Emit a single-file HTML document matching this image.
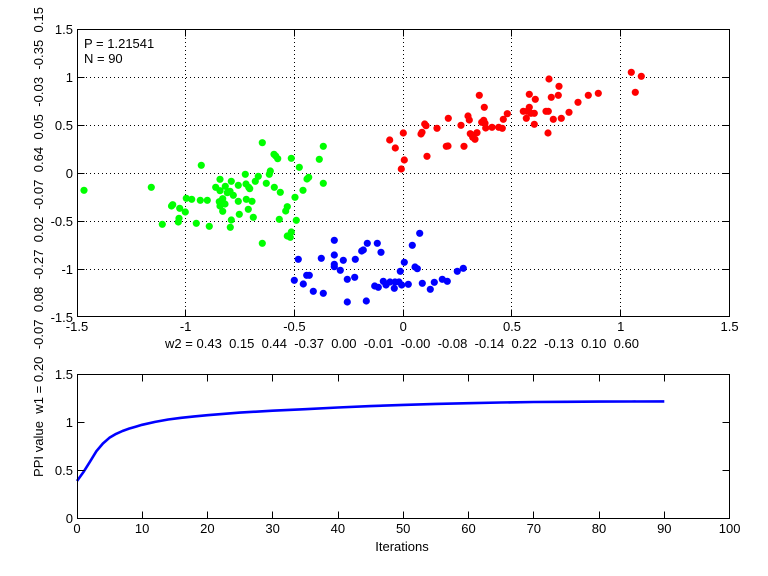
<!DOCTYPE html>
<html>
<head>
<meta charset="utf-8">
<style>
html,body{margin:0;padding:0;background:#fff;}
svg{display:block;}
text{font-family:"Liberation Sans",Arial,sans-serif;font-size:13px;fill:#000;}
</style>
</head>
<body>
<svg width="768" height="576" viewBox="0 0 768 576" xmlns="http://www.w3.org/2000/svg">
<rect x="0" y="0" width="768" height="576" fill="#fff"/>

<!-- ===== TOP PLOT ===== -->
<g stroke="#000" stroke-width="1" stroke-dasharray="1 3" shape-rendering="crispEdges">
  <line x1="185.5" y1="30" x2="185.5" y2="316"/>
  <line x1="294.5" y1="30" x2="294.5" y2="316"/>
  <line x1="403.5" y1="30" x2="403.5" y2="316"/>
  <line x1="511.5" y1="30" x2="511.5" y2="316"/>
  <line x1="620.5" y1="30" x2="620.5" y2="316"/>
  <line x1="78" y1="77.5" x2="729" y2="77.5"/>
  <line x1="78" y1="125.5" x2="729" y2="125.5"/>
  <line x1="78" y1="173.5" x2="729" y2="173.5"/>
  <line x1="78" y1="221.5" x2="729" y2="221.5"/>
  <line x1="78" y1="269.5" x2="729" y2="269.5"/>
</g>

<!-- green -->
<g fill="#00ff00">
<circle cx="84" cy="190.3" r="3.6"/><circle cx="151.3" cy="187.3" r="3.6"/><circle cx="162.3" cy="224.3" r="3.6"/>
<circle cx="172.7" cy="204.7" r="3.6"/><circle cx="171.5" cy="206" r="3.6"/><circle cx="179.7" cy="208.3" r="3.6"/>
<circle cx="185.3" cy="212" r="3.6"/><circle cx="179" cy="218.3" r="3.6"/><circle cx="178.3" cy="222" r="3.6"/>
<circle cx="186.3" cy="198.3" r="3.6"/><circle cx="191.7" cy="199.3" r="3.6"/><circle cx="196.3" cy="223.3" r="3.6"/>
<circle cx="200.3" cy="200.3" r="3.6"/><circle cx="207.3" cy="200.3" r="3.6"/><circle cx="201.3" cy="165.3" r="3.6"/>
<circle cx="209.3" cy="226.3" r="3.6"/><circle cx="215.7" cy="187.3" r="3.6"/><circle cx="220" cy="179.3" r="3.6"/>
<circle cx="225.3" cy="186.3" r="3.6"/><circle cx="220" cy="190.7" r="3.6"/><circle cx="227.3" cy="192.7" r="3.6"/>
<circle cx="230" cy="191.3" r="3.6"/><circle cx="233.3" cy="195.3" r="3.6"/><circle cx="222.7" cy="198.7" r="3.6"/>
<circle cx="219.3" cy="201.7" r="3.6"/><circle cx="225" cy="204" r="3.6"/><circle cx="220" cy="206" r="3.6"/>
<circle cx="222.7" cy="211.3" r="3.6"/><circle cx="231.3" cy="181.3" r="3.6"/><circle cx="238.3" cy="185.3" r="3.6"/>
<circle cx="238.3" cy="201.3" r="3.6"/><circle cx="239.3" cy="214.3" r="3.6"/><circle cx="231.3" cy="220" r="3.6"/>
<circle cx="230.3" cy="227.3" r="3.6"/><circle cx="245.3" cy="174.3" r="3.6"/><circle cx="246" cy="184" r="3.6"/>
<circle cx="248.7" cy="187.3" r="3.6"/><circle cx="249.7" cy="188.7" r="3.6"/><circle cx="246.3" cy="199.3" r="3.6"/>
<circle cx="252" cy="201.3" r="3.6"/><circle cx="248.3" cy="209.3" r="3.6"/><circle cx="253.3" cy="217.3" r="3.6"/>
<circle cx="262.3" cy="142.7" r="3.6"/><circle cx="258.3" cy="176.3" r="3.6"/><circle cx="255.3" cy="181.3" r="3.6"/>
<circle cx="262.3" cy="243.3" r="3.6"/><circle cx="266.3" cy="183.3" r="3.6"/><circle cx="270.3" cy="171" r="3.6"/>
<circle cx="269.3" cy="174.3" r="3.6"/><circle cx="274" cy="154.3" r="3.6"/><circle cx="275.7" cy="156" r="3.6"/>
<circle cx="277.7" cy="158.7" r="3.6"/><circle cx="274.3" cy="187.3" r="3.6"/><circle cx="280.3" cy="192.3" r="3.6"/>
<circle cx="279.3" cy="219.3" r="3.6"/><circle cx="287.3" cy="206.7" r="3.6"/><circle cx="285.7" cy="211" r="3.6"/>
<circle cx="291.3" cy="158.3" r="3.6"/><circle cx="291.3" cy="232" r="3.6"/><circle cx="287.3" cy="236" r="3.6"/>
<circle cx="290.3" cy="237.3" r="3.6"/><circle cx="295" cy="197.3" r="3.6"/><circle cx="296.3" cy="220.3" r="3.6"/>
<circle cx="299.3" cy="167.3" r="3.6"/><circle cx="303" cy="190.3" r="3.6"/><circle cx="308.7" cy="177.3" r="3.6"/>
<circle cx="307" cy="179" r="3.6"/><circle cx="319.3" cy="159.3" r="3.6"/><circle cx="323.3" cy="146.3" r="3.6"/>
<circle cx="323.3" cy="183.3" r="3.6"/>
</g>

<!-- blue -->
<g fill="#0000ff">
<circle cx="334.3" cy="240.3" r="3.6"/><circle cx="367.3" cy="243.3" r="3.6"/><circle cx="377.3" cy="243.3" r="3.6"/>
<circle cx="419.7" cy="233.3" r="3.6"/><circle cx="412.3" cy="245.3" r="3.6"/><circle cx="361.7" cy="251" r="3.6"/>
<circle cx="363.3" cy="250" r="3.6"/><circle cx="381" cy="252.3" r="3.6"/><circle cx="334.3" cy="255" r="3.6"/>
<circle cx="298.3" cy="259.3" r="3.6"/><circle cx="321.3" cy="258.3" r="3.6"/><circle cx="343.3" cy="260.3" r="3.6"/>
<circle cx="355.3" cy="259.3" r="3.6"/><circle cx="334.3" cy="264.3" r="3.6"/><circle cx="334.3" cy="266.7" r="3.6"/>
<circle cx="340.3" cy="270.3" r="3.6"/><circle cx="404.3" cy="262.3" r="3.6"/><circle cx="415" cy="267" r="3.6"/>
<circle cx="417.3" cy="268.7" r="3.6"/><circle cx="400.3" cy="271.3" r="3.6"/><circle cx="463.3" cy="268.3" r="3.6"/>
<circle cx="457.3" cy="271.3" r="3.6"/><circle cx="306.7" cy="275.3" r="3.6"/><circle cx="309.3" cy="275.3" r="3.6"/>
<circle cx="294.3" cy="280.3" r="3.6"/><circle cx="347.3" cy="279.3" r="3.6"/><circle cx="354.7" cy="277.3" r="3.6"/>
<circle cx="303.3" cy="284" r="3.6"/><circle cx="313.3" cy="291.3" r="3.6"/><circle cx="323.3" cy="293.3" r="3.6"/>
<circle cx="347.3" cy="302" r="3.6"/><circle cx="366.3" cy="301" r="3.6"/><circle cx="383.3" cy="281.3" r="3.6"/>
<circle cx="386" cy="285" r="3.6"/><circle cx="390" cy="282" r="3.6"/><circle cx="395" cy="282" r="3.6"/>
<circle cx="399" cy="282" r="3.6"/><circle cx="401.7" cy="285" r="3.6"/><circle cx="394.3" cy="288.3" r="3.6"/>
<circle cx="374.7" cy="286" r="3.6"/><circle cx="378.3" cy="287.3" r="3.6"/><circle cx="408.3" cy="284.3" r="3.6"/>
<circle cx="422.3" cy="283.3" r="3.6"/><circle cx="434.3" cy="282.3" r="3.6"/><circle cx="430.3" cy="289.3" r="3.6"/>
<circle cx="442.3" cy="279.3" r="3.6"/><circle cx="447.3" cy="281.3" r="3.6"/>
</g>

<!-- red -->
<g fill="#ff0000">
<circle cx="631.3" cy="72.3" r="3.6"/><circle cx="641.3" cy="76.3" r="3.6"/><circle cx="549" cy="79" r="3.6"/>
<circle cx="559" cy="86.3" r="3.6"/><circle cx="635.3" cy="92.3" r="3.6"/><circle cx="598.3" cy="93.3" r="3.6"/>
<circle cx="588.3" cy="95.3" r="3.6"/><circle cx="529.3" cy="94.3" r="3.6"/><circle cx="558.3" cy="95.3" r="3.6"/>
<circle cx="551.3" cy="97.3" r="3.6"/><circle cx="479.3" cy="95.3" r="3.6"/><circle cx="535.3" cy="99.3" r="3.6"/>
<circle cx="578" cy="102.3" r="3.6"/><circle cx="484.3" cy="107.3" r="3.6"/><circle cx="529.3" cy="107.3" r="3.6"/>
<circle cx="523.3" cy="111.3" r="3.6"/><circle cx="527" cy="111.3" r="3.6"/><circle cx="531" cy="113.3" r="3.6"/>
<circle cx="534.3" cy="113.3" r="3.6"/><circle cx="526.3" cy="118.3" r="3.6"/><circle cx="546" cy="111.3" r="3.6"/>
<circle cx="548.3" cy="111.3" r="3.6"/><circle cx="569" cy="112.3" r="3.6"/><circle cx="507.3" cy="113.7" r="3.6"/>
<circle cx="503.3" cy="119.3" r="3.6"/><circle cx="468" cy="116" r="3.6"/><circle cx="469.3" cy="120" r="3.6"/>
<circle cx="448.3" cy="118.3" r="3.6"/><circle cx="553.3" cy="119.3" r="3.6"/><circle cx="561.3" cy="118.3" r="3.6"/>
<circle cx="483.7" cy="120.3" r="3.6"/><circle cx="481.7" cy="122.3" r="3.6"/><circle cx="485" cy="123.3" r="3.6"/>
<circle cx="424.7" cy="124" r="3.6"/><circle cx="426" cy="125.7" r="3.6"/><circle cx="534.3" cy="124.3" r="3.6"/>
<circle cx="461" cy="125.3" r="3.6"/><circle cx="437" cy="128.3" r="3.6"/><circle cx="485.7" cy="128" r="3.6"/>
<circle cx="492" cy="127.3" r="3.6"/><circle cx="498.7" cy="127.3" r="3.6"/><circle cx="502.3" cy="128.3" r="3.6"/>
<circle cx="477" cy="132.7" r="3.6"/><circle cx="470.3" cy="133.7" r="3.6"/><circle cx="472.7" cy="137.3" r="3.6"/>
<circle cx="475" cy="139.3" r="3.6"/><circle cx="422" cy="132.3" r="3.6"/><circle cx="421" cy="134" r="3.6"/>
<circle cx="403.3" cy="133" r="3.6"/><circle cx="548" cy="133" r="3.6"/><circle cx="389.7" cy="140" r="3.6"/>
<circle cx="395.3" cy="148" r="3.6"/><circle cx="448" cy="146" r="3.6"/><circle cx="446.3" cy="146.3" r="3.6"/>
<circle cx="464" cy="146.3" r="3.6"/><circle cx="427" cy="156.3" r="3.6"/><circle cx="404.3" cy="160" r="3.6"/>
<circle cx="401.3" cy="169" r="3.6"/>
</g>

<!-- top axes box and ticks -->
<g stroke="#000" stroke-width="1" fill="none" shape-rendering="crispEdges">
  <rect x="77.5" y="29.5" width="652" height="287"/>
  <path d="M185.5 316v-6.5M294.5 316v-6.5M403.5 316v-6.5M511.5 316v-6.5M620.5 316v-6.5
           M185.5 30v6.5M294.5 30v6.5M403.5 30v6.5M511.5 30v6.5M620.5 30v6.5
           M78 77.5h6.5M78 125.5h6.5M78 173.5h6.5M78 221.5h6.5M78 269.5h6.5
           M729 77.5h-6.5M729 125.5h-6.5M729 173.5h-6.5M729 221.5h-6.5M729 269.5h-6.5"/>
</g>

<g text-anchor="end">
  <text x="73" y="34">1.5</text>
  <text x="73" y="82">1</text>
  <text x="73" y="130">0.5</text>
  <text x="73" y="178">0</text>
  <text x="73" y="226">-0.5</text>
  <text x="73" y="274">-1</text>
  <text x="73" y="322">-1.5</text>
</g>
<g text-anchor="middle">
  <text x="77" y="331">-1.5</text>
  <text x="185.6" y="331">-1</text>
  <text x="294.4" y="331">-0.5</text>
  <text x="403.2" y="331">0</text>
  <text x="512" y="331">0.5</text>
  <text x="620.8" y="331">1</text>
  <text x="729.6" y="331">1.5</text>
</g>

<text x="84" y="48">P = 1.21541</text>
<text x="84" y="63">N = 90</text>

<text x="402" y="348" text-anchor="middle" textLength="474" lengthAdjust="spacing" xml:space="preserve">w2 = 0.43  0.15  0.44  -0.37  0.00  -0.01  -0.00  -0.08  -0.14  0.22  -0.13  0.10  0.60</text>

<!-- ===== BOTTOM PLOT ===== -->
<polyline fill="none" stroke="#0000ff" stroke-width="2.6" stroke-linejoin="round"
  points="77,481 83.3,472.3 89.9,461.8 96.4,451.2 102.9,443.5 109.4,437.8 116,433.9 122.5,431 129,428.6 135.6,426.7 142.1,424.8 155.1,421.9 168.2,419.5 181.2,417.8 194.3,416.4 207.4,415.2 240,412.6 272.6,410.7 305.3,409.2 337.9,407.5 370.6,406.1 403.2,404.9 435.8,403.9 468.5,403.2 501.1,402.5 533.8,402 566.4,401.8 599,401.6 631.7,401.5 664.3,401.4"/>

<g stroke="#000" stroke-width="1" fill="none" shape-rendering="crispEdges">
  <rect x="77.5" y="374.5" width="652" height="144"/>
  <path d="M142.5 518v-6.5M207.5 518v-6.5M272.5 518v-6.5M338.5 518v-6.5M403.5 518v-6.5M468.5 518v-6.5M533.5 518v-6.5M599.5 518v-6.5M664.5 518v-6.5
           M142.5 375v6.5M207.5 375v6.5M272.5 375v6.5M338.5 375v6.5M403.5 375v6.5M468.5 375v6.5M533.5 375v6.5M599.5 375v6.5M664.5 375v6.5
           M78 422.5h6.5M78 470.5h6.5M729 422.5h-6.5M729 470.5h-6.5"/>
</g>

<g text-anchor="end">
  <text x="73" y="379">1.5</text>
  <text x="73" y="427">1</text>
  <text x="73" y="475">0.5</text>
  <text x="73" y="523">0</text>
</g>
<g text-anchor="middle">
  <text x="77" y="533">0</text>
  <text x="142.1" y="533">10</text>
  <text x="207.4" y="533">20</text>
  <text x="272.6" y="533">30</text>
  <text x="337.9" y="533">40</text>
  <text x="403.2" y="533">50</text>
  <text x="468.5" y="533">60</text>
  <text x="533.8" y="533">70</text>
  <text x="599" y="533">80</text>
  <text x="664.3" y="533">90</text>
  <text x="729.6" y="533">100</text>
</g>
<text x="402" y="551" text-anchor="middle">Iterations</text>

<text transform="translate(43,477) rotate(-90)" x="0" y="0" textLength="470" lengthAdjust="spacing" xml:space="preserve">PPI value  w1 = 0.20  -0.07  0.08  -0.27  0.02  -0.07  0.64  0.05  -0.03  -0.35  0.15</text>

</svg>
</body>
</html>
